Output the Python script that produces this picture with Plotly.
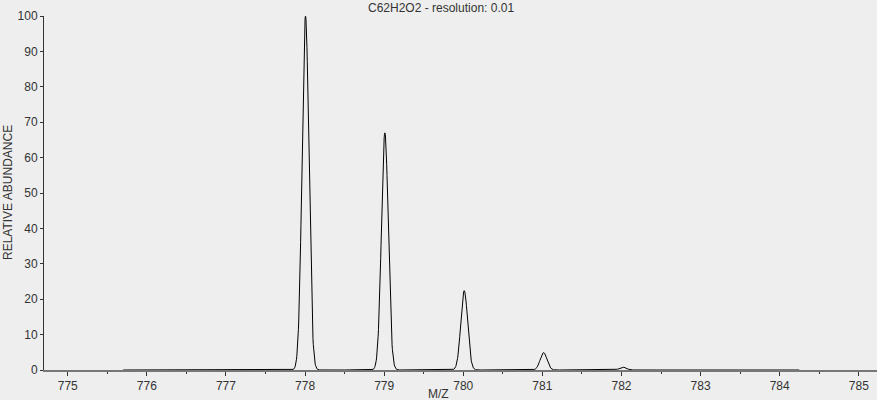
import numpy as np
import plotly.graph_objects as go

# Isotope peaks (m/z, relative abundance)
peak_mz = [778.0055, 779.0089, 780.0122, 781.0156, 782.0189]
peak_int = [100.0, 67.0, 22.4, 4.9, 0.8]
profile_start = 775.7
profile_end = 784.25
peak_sigma = 0.043

title_text = "C62H2O2 - resolution: 0.01"
x_title = "M/Z"
y_title = "RELATIVE ABUNDANCE"
x_ticks = [775, 776, 777, 778, 779, 780, 781, 782, 783, 784, 785]
y_ticks = [0, 10, 20, 30, 40, 50, 60, 70, 80, 90, 100]

# Profile spectrum rendered from the peak list (Gaussian peak shape)
mz = np.arange(profile_start, profile_end, 0.004)
inten = np.zeros_like(mz)
for m, a in zip(peak_mz, peak_int):
    inten += a * np.exp(-0.5 * ((mz - m) / peak_sigma) ** 2)

fig = go.Figure()
fig.add_trace(go.Scatter(x=mz, y=inten, mode="lines",
                         line=dict(color="#000000", width=1),
                         hoverinfo="skip", showlegend=False))

txt = dict(family="Liberation Sans, Arial, sans-serif", size=12, color="#333333")
fig.update_layout(
    width=877, height=400,
    margin=dict(l=44, r=0, t=16, b=30, autoexpand=False),
    paper_bgcolor="#eeeeee", plot_bgcolor="#eeeeee",
    font=txt,
    showlegend=False,
    annotations=[
        dict(text=title_text, x=0.477, xref="paper", y=1, yref="paper",
             yshift=8, showarrow=False, font=txt,
             xanchor="center", yanchor="middle"),
        dict(text=x_title, x=0.473, xref="paper", y=0, yref="paper",
             yshift=-24, showarrow=False, font=txt,
             xanchor="center", yanchor="middle"),
        dict(text=y_title, x=0, xref="paper", y=0.5, yref="paper",
             xshift=-36, showarrow=False, font=txt, textangle=-90,
             xanchor="center", yanchor="middle"),
    ],
)
fig.update_xaxes(
    range=[774.7, 785.23], tickvals=x_ticks, ticktext=[str(v) for v in x_ticks],
    automargin=False,
    showgrid=False, zeroline=False, showline=True, linecolor="#777777", linewidth=2,
    ticks="outside", ticklen=4, tickcolor="#333333", tickwidth=1,
    minor=dict(tickvals=[v + 0.5 for v in x_ticks], ticks="outside", ticklen=2,
               tickcolor="#333333"),
    tickfont=txt,
    fixedrange=True,
)
fig.update_yaxes(
    range=[0, 100], tickvals=y_ticks,
    automargin=False,
    showgrid=False, zeroline=False, showline=True, linecolor="#333333", linewidth=1,
    ticks="outside", ticklen=3, tickcolor="#333333",
    tickfont=txt,
    fixedrange=True,
)

fig.write_html("out.html",
               config={"displayModeBar": False, "staticPlot": True},
               post_script="document.body.style.margin='0';document.body.style.background='#eeeeee';")
